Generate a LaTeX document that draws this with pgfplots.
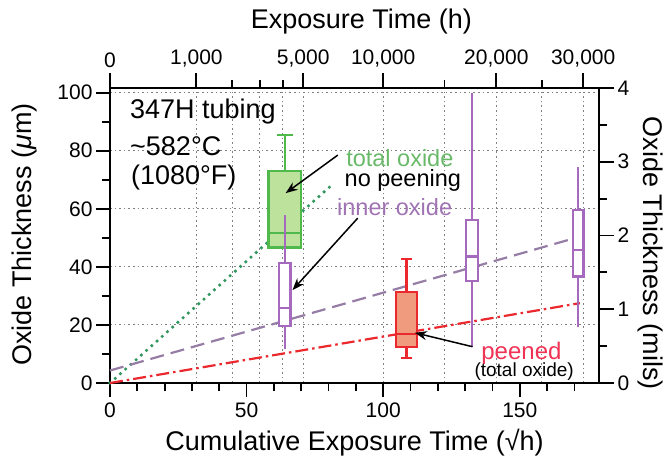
\documentclass[border=0pt]{standalone}
\usepackage{pgfplots}
\pgfplotsset{compat=1.18}
\usepgfplotslibrary{statistics}
\usetikzlibrary{arrows.meta}
\usepackage{fontspec}
\setmainfont{Liberation Sans}
\definecolor{boxgreen}{RGB}{80,185,75}
\definecolor{fillgreen}{RGB}{188,226,155}
\definecolor{dotgreen}{RGB}{50,150,95}
\definecolor{txtgreen}{RGB}{105,185,105}
\definecolor{purp}{RGB}{165,105,190}
\definecolor{txtpurp}{RGB}{160,115,180}
\definecolor{dashpurp}{RGB}{150,125,165}
\definecolor{redbox}{RGB}{235,40,45}
\definecolor{fillred}{RGB}{240,155,125}
\definecolor{txtred}{RGB}{240,50,85}
\tikzset{mygrid/.style={draw=black!50, line width=1pt, dash pattern=on 1.6pt off 3pt}}
\begin{document}
\begin{tikzpicture}
\useasboundingbox (-110pt,-80pt) rectangle (556pt,383pt);
% top / right axis
\begin{axis}[
  at={(0,0)}, anchor=south west,
  scale only axis, width=489pt, height=295pt,
  xmin=0, xmax=179, ymin=0, ymax=4,
  axis line style={draw=none},
  xtick pos=top, xticklabel pos=top,
  ytick pos=right, yticklabel pos=right,
  xtick={0,31.623,70.711,100,141.421,173.205},
  xticklabels={0,{1,000},{5,000},{10,000},{20,000},{30,000}},
  extra x ticks={44.721,54.772,63.246,122.474,158.114},
  extra x tick labels={},
  extra x tick style={major tick length=8pt},
  ytick={0,1,2,3,4}, minor ytick={0.5,1.5,2.5,3.5},
  tick align=outside, major tick length=15pt, minor tick length=8pt,
  every tick/.style={black, line width=1.8pt},
  /pgf/number format/assume math mode=true,
  ticklabel style={font=\fontsize{21}{21}\selectfont},
  xticklabel style={yshift=2pt},
  xlabel={Exposure Time (h)},
  ylabel={Oxide Thickness (mils)},
  every axis x label/.style={at={(axis description cs:0.514,1.224)}, anchor=center, font=\fontsize{27}{27}\selectfont},
  every axis y label/.style={at={(axis description cs:1.106,0.44)}, anchor=center, inner sep=0pt, rotate=-90, font=\fontsize{27}{27}\selectfont},
]
\addplot[draw=none] coordinates {(0,0)};
\end{axis}
% grid lines (decoration, drawn in the axis frame)
\begin{axis}[
  at={(0,0)}, anchor=south west,
  scale only axis, width=489pt, height=295pt,
  xmin=0, xmax=179, ymin=0, ymax=101.6,
  hide axis,
]
\addplot[mygrid, ycomb] coordinates {(31.623,101.6) (44.721,101.6) (54.772,101.6) (63.246,101.6) (70.711,101.6) (100,101.6) (122.474,101.6) (141.421,101.6) (158.114,101.6) (173.205,101.6)};
\addplot[mygrid, xcomb] coordinates {(179,20) (179,40) (179,60) (179,80) (179,100)};
\end{axis}
% main axis
\begin{axis}[
  at={(0,0)}, anchor=south west,
  scale only axis, width=489pt, height=295pt,
  xmin=0, xmax=179, ymin=0, ymax=101.6,
  clip=false,
  axis line style={line width=2.2pt},
  xtick pos=bottom, ytick pos=left,
  xtick={0,50,100,150}, minor xtick={10,20,30,40,60,70,80,90,110,120,130,140,160,170},
  ytick={0,20,40,60,80,100}, minor ytick={10,30,50,70,90},
  tick align=outside, major tick length=14pt, minor tick length=8pt,
  every tick/.style={black, line width=1.8pt},
  /pgf/number format/assume math mode=true,
  ticklabel style={font=\fontsize{21}{21}\selectfont},
  xticklabel style={yshift=-2pt},
  xlabel={Cumulative Exposure Time (√h)},
  ylabel={Oxide Thickness (\textit{μ}m)},
  every axis x label/.style={at={(axis description cs:0.5,-0.203)}, anchor=center, font=\fontsize{27}{27}\selectfont},
  every axis y label/.style={at={(axis description cs:-0.174,0.503)}, anchor=center, rotate=90, font=\fontsize{27}{27}\selectfont},
  boxplot/draw direction=y,
]
% trend lines
\addplot[dotgreen, line width=3.6pt, line cap=round, dash pattern=on 0pt off 7pt] coordinates {(0,0) (80.5,67.6)};
\addplot[dashpurp, line width=2.2pt, dash pattern=on 14pt off 7pt] coordinates {(0,4.3) (172,50.4)};
\addplot[redbox, line width=2.2pt, dash pattern=on 13pt off 4pt on 2.5pt off 4pt] coordinates {(0,0) (172,27.5)};
% boxes
\addplot[draw=boxgreen, fill=fillgreen, line width=2.2pt,
  boxplot prepared={draw position=64, box extend=12, whisker extend=6,
  lower whisker=46.7, lower quartile=46.7, median=51.7, upper quartile=73.1, upper whisker=85.4}]
  coordinates {};
\addplot[draw=purp, fill=white, line width=2.5pt,
  boxplot prepared={draw position=64, box extend=4.3, whisker extend=0,
  lower whisker=11.7, lower quartile=19.6, median=25.8, upper quartile=41.4, upper whisker=57.9}]
  coordinates {};
\addplot[draw=purp, fill=white, line width=2.5pt,
  boxplot prepared={draw position=132.5, box extend=4.3, whisker extend=0,
  lower whisker=12.5, lower quartile=35.2, median=43.5, upper quartile=56.1, upper whisker=100}]
  coordinates {};
\addplot[draw=purp, fill=white, line width=2.5pt,
  boxplot prepared={draw position=171.4, box extend=4.0, whisker extend=0,
  lower whisker=19.2, lower quartile=36.6, median=45.8, upper quartile=59.6, upper whisker=74.3}]
  coordinates {};
\addplot[draw=redbox, fill=fillred, line width=2.2pt,
  boxplot prepared={draw position=108.5, box extend=7.8, whisker extend=3.9,
  lower whisker=8.5, lower quartile=12.3, median=16.9, upper quartile=31.4, upper whisker=42.7}]
  coordinates {};
% annotations
\node[anchor=base west, font=\fontsize{27}{27}\selectfont] at (axis cs:6.1,91.2) {347H tubing};
\node[anchor=base west, font=\fontsize{27}{27}\selectfont] at (axis cs:6.1,78.5) {\textasciitilde582°C};
\node[anchor=base west, font=\fontsize{27}{27}\selectfont] at (axis cs:6.4,68.2) {(1080°F)};
\node[txtgreen, font=\fontsize{23.5}{24}\selectfont] at (axis cs:106.1,77.5) {total oxide};
\node[black, font=\fontsize{23.5}{24}\selectfont] at (axis cs:107.2,69.9) {no peening};
\node[txtpurp, font=\fontsize{23.5}{24}\selectfont] at (axis cs:104.2,60.7) {inner oxide};
\node[txtred, font=\fontsize{24}{24}\selectfont] at (axis cs:150.6,10.3) {peened};
\node[black, font=\fontsize{19}{19}\selectfont] at (axis cs:151.6,3.9) {(total oxide)};
\draw[-{Stealth[length=12pt,width=9pt]}, line width=1.5pt] (axis cs:83.4,78.5) -- (axis cs:64.3,65.4);
\draw[-{Stealth[length=12pt,width=9pt]}, line width=1.5pt] (axis cs:90.7,56.8) -- (axis cs:66.8,32.0);
\draw[-{Stealth[length=12pt,width=9pt]}, line width=1.5pt] (axis cs:132.7,12.5) -- (axis cs:111.6,17.3);
\end{axis}
\end{tikzpicture}
\end{document}
